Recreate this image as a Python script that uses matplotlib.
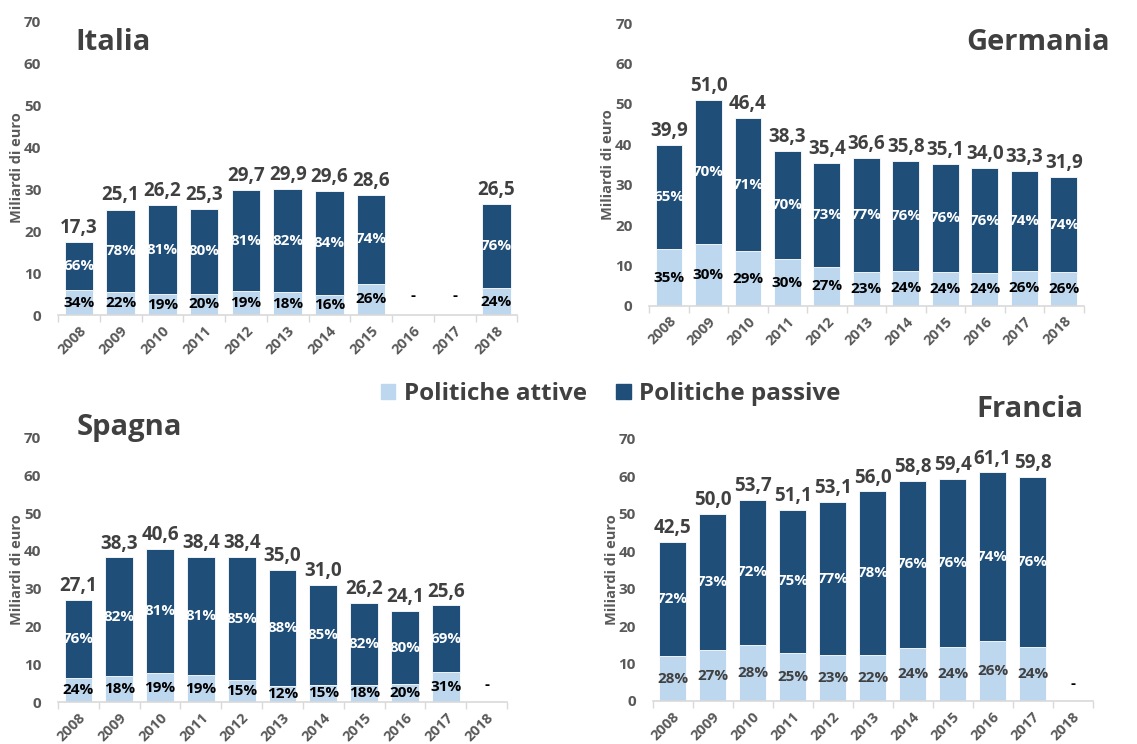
import numpy as np
import matplotlib
matplotlib.use("Agg")
import matplotlib.pyplot as plt
from matplotlib.patches import Patch

plt.rcParams['font.family'] = ['Open Sans', 'DejaVu Sans']
plt.rcParams['font.weight'] = 'bold'

# --- data ---
years = ['2008', '2009', '2010', '2011', '2012', '2013', '2014', '2015', '2016', '2017', '2018']

italia_tot = [17.3, 25.1, 26.2, 25.3, 29.7, 29.9, 29.6, 28.6, None, None, 26.5]
italia_att = [5.9, 5.5, 5.0, 5.1, 5.6, 5.4, 4.7, 7.4, None, None, 6.4]
italia_pct_att = [34, 22, 19, 20, 19, 18, 16, 26, None, None, 24]
italia_pct_pas = [66, 78, 81, 80, 81, 82, 84, 74, None, None, 76]

germania_tot = [39.9, 51.0, 46.4, 38.3, 35.4, 36.6, 35.8, 35.1, 34.0, 33.3, 31.9]
germania_att = [14.0, 15.3, 13.5, 11.5, 9.6, 8.4, 8.6, 8.4, 8.2, 8.7, 8.3]
germania_pct_att = [35, 30, 29, 30, 27, 23, 24, 24, 24, 26, 26]
germania_pct_pas = [65, 70, 71, 70, 73, 77, 76, 76, 76, 74, 74]

spagna_tot = [27.1, 38.3, 40.6, 38.4, 38.4, 35.0, 31.0, 26.2, 24.1, 25.6, None]
spagna_att = [6.5, 6.9, 7.7, 7.3, 5.8, 4.2, 4.7, 4.7, 4.8, 7.9, None]
spagna_pct_att = [24, 18, 19, 19, 15, 12, 15, 18, 20, 31, None]
spagna_pct_pas = [76, 82, 81, 81, 85, 88, 85, 82, 80, 69, None]

francia_tot = [42.5, 50.0, 53.7, 51.1, 53.1, 56.0, 58.8, 59.4, 61.1, 59.8, None]
francia_att = [11.9, 13.5, 15.0, 12.8, 12.2, 12.3, 14.1, 14.3, 15.9, 14.4, None]
francia_pct_att = [28, 27, 28, 25, 23, 22, 24, 24, 26, 24, None]
francia_pct_pas = [72, 73, 72, 75, 77, 78, 76, 76, 74, 76, None]

LIGHT = '#BDD7EE'
DARK = '#1F4E79'
TXT = '#404040'
TICK = '#595959'


def fmt(v):
    return f"{v:.1f}".replace('.', ',')


def draw_panel(ax, tot, att, pct_a, pct_p, active_color='black'):
    x = np.arange(len(years))
    for i in range(len(years)):
        if tot[i] is None:
            ax.text(i, 4.5, '-', ha='center', va='center', fontsize=11,
                    color='black', fontweight='bold')
            continue
        a = att[i]
        p = tot[i] - a
        ax.bar(i, a, width=0.68, color=LIGHT, edgecolor='white', linewidth=0.6)
        ax.bar(i, p, bottom=a, width=0.68, color=DARK, edgecolor='white', linewidth=0.6)
        ax.text(i, tot[i] + 1.0, fmt(tot[i]), ha='center', va='bottom',
                fontsize=13.5, color=TXT, fontweight='bold')
        ax.text(i, a + p / 2, f"{pct_p[i]}%", ha='center', va='center',
                fontsize=11, color='white', fontweight='bold')
        ax.text(i, a / 2, f"{pct_a[i]}%", ha='center', va='center',
                fontsize=11, color=active_color, fontweight='bold')
    ax.set_xlim(-0.5, len(years) - 0.5)
    ax.set_ylim(0, 70)
    ax.set_yticks(range(0, 71, 10))
    ax.set_xticks(x)
    ax.set_xticklabels(years, rotation=45, ha='right', rotation_mode='anchor',
                       fontsize=10.5, color=TICK, fontweight='bold')
    ax.set_xticks(np.arange(-0.5, len(years), 1), minor=True)
    ax.tick_params(axis='x', which='major', length=0, pad=6)
    ax.tick_params(axis='x', which='minor', length=5, color='#D9D9D9', width=1)
    ax.tick_params(axis='y', length=0, labelsize=11, labelcolor=TICK, pad=12)
    for lab in ax.get_yticklabels():
        lab.set_fontweight('bold')
    for s in ['top', 'right', 'left']:
        ax.spines[s].set_visible(False)
    ax.spines['bottom'].set_color('#D9D9D9')
    ax.spines['bottom'].set_linewidth(1.2)
    ax.set_ylabel('Miliardi di euro', fontsize=10.5, color=TICK, fontweight='bold',
                  labelpad=0)


fig = plt.figure(figsize=(11.37, 7.44), dpi=100)

ax1 = fig.add_axes([0.051, 0.5766, 0.404, 0.395])
draw_panel(ax1, italia_tot, italia_att, italia_pct_att, italia_pct_pas)
fig.text(75 / 1137, 1 - 42 / 744, 'Italia', fontsize=21, fontweight='bold',
         color=TXT, ha='left', va='center')

ax2 = fig.add_axes([0.571, 0.589, 0.382, 0.380])
draw_panel(ax2, germania_tot, germania_att, germania_pct_att, germania_pct_pas)
fig.text(1110 / 1137, 1 - 42 / 744, 'Germania', fontsize=21, fontweight='bold',
         color=TXT, ha='right', va='center')

ax3 = fig.add_axes([0.051, 0.056, 0.395, 0.356])
draw_panel(ax3, spagna_tot, spagna_att, spagna_pct_att, spagna_pct_pas)
fig.text(77 / 1137, 1 - 427 / 744, 'Spagna', fontsize=21, fontweight='bold',
         color=TXT, ha='left', va='center')

ax4 = fig.add_axes([0.574, 0.058, 0.387, 0.352])
draw_panel(ax4, francia_tot, francia_att, francia_pct_att, francia_pct_pas,
           active_color=TXT)
fig.text(1083 / 1137, 1 - 410 / 744, 'Francia', fontsize=21, fontweight='bold',
         color=TXT, ha='right', va='center')

handles = [Patch(color=LIGHT, label='Politiche attive'),
           Patch(color=DARK, label='Politiche passive')]
leg = fig.legend(handles=handles, loc='center', bbox_to_anchor=(0.537, 1 - 394 / 744),
                 ncol=2, frameon=False, fontsize=17.5, handlelength=0.6,
                 handleheight=0.6, handletextpad=0.35, columnspacing=1.2)
for t in leg.get_texts():
    t.set_color(TXT)
    t.set_fontweight('bold')

fig.savefig('out.png', dpi=100)
